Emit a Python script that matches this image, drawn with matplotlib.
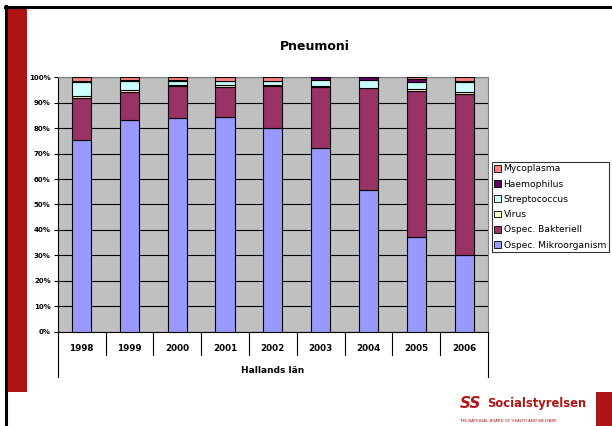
import matplotlib
matplotlib.use("Agg")
import matplotlib.pyplot as plt
from matplotlib.patches import Rectangle, Patch
from matplotlib.lines import Line2D
import numpy as np

years = ["1998", "1999", "2000", "2001", "2002", "2003", "2004", "2005", "2006"]
series_names = ["Ospec. Mikroorganism", "Ospec. Bakteriell", "Virus",
                "Streptococcus", "Haemophilus", "Mycoplasma"]
mikro = [75.5, 83.2, 83.9, 84.3, 80.0, 72.3, 55.7, 37.4, 30.0]
bakt = [16.5, 11.0, 12.8, 12.0, 16.7, 24.0, 40.0, 57.2, 63.3]
virus = [0.7, 1.0, 0.4, 0.5, 0.3, 0.4, 0.0, 0.7, 0.8]
strep = [5.3, 3.2, 1.5, 1.6, 1.4, 2.3, 3.3, 2.7, 3.9]
haem = [0.5, 0.5, 0.4, 0.2, 0.2, 1.0, 1.0, 1.2, 0.6]
myco = [1.5, 1.1, 1.0, 1.4, 1.4, 0.0, 0.0, 0.8, 1.4]
colors = ["#9999FF", "#993366", "#FFFFCC", "#CCFFFF", "#660066", "#FF8080"]
yticks = [0, 10, 20, 30, 40, 50, 60, 70, 80, 90, 100]
title = "Pneumoni"
xgroup = "Hallands län"

W, H = 612, 426
fig = plt.figure(figsize=(W / 100, H / 100), dpi=100)
fig.patch.set_facecolor("white")

def fx(x):
    return x / W

def fy(y):
    return 1 - y / H

# slide decorations
fig.add_artist(Rectangle((fx(7), fy(392)), fx(27) - fx(7), fy(8) - fy(392),
                         transform=fig.transFigure, color="#B01515", lw=0))
fig.add_artist(Rectangle((fx(596), fy(426)), fx(612) - fx(596), fy(392) - fy(426),
                         transform=fig.transFigure, color="#B01515", lw=0))
fig.add_artist(Line2D([fx(5), fx(612)], [fy(7), fy(7)], transform=fig.transFigure,
                      color="black", lw=2.2))
fig.add_artist(Line2D([fx(6), fx(6)], [fy(6), fy(426)], transform=fig.transFigure,
                      color="black", lw=2.2))

# chart axes
x0, x1, ytop, ybot = 57.7, 488.0, 77.3, 331.7
ax = fig.add_axes([fx(x0), fy(ybot), fx(x1) - fx(x0), fy(ytop) - fy(ybot)])
ax.set_facecolor("#C0C0C0")
n = len(years)
x = np.arange(n)
data = [mikro, bakt, virus, strep, haem, myco]
bottom = np.zeros(n)
for vals, c, name in zip(data, colors, series_names):
    vals = np.array(vals)
    ax.bar(x, vals, bottom=bottom, width=0.4, color=c, edgecolor="black",
           linewidth=0.8, label=name, zorder=3)
    bottom = bottom + vals
ax.set_xlim(-0.5, n - 0.5)
ax.set_ylim(0, 100)
ax.set_yticks(yticks)
ax.set_yticklabels([f"{v}%" for v in yticks], fontsize=5, fontweight="bold")
ax.yaxis.grid(True, color="black", lw=0.8, zorder=1)
ax.set_axisbelow(True)
ax.set_xticks([])
ax.tick_params(axis="y", length=3, width=0.8, pad=2)
for s in ["top", "right"]:
    ax.spines[s].set_color("#808080")
    ax.spines[s].set_linewidth(0.8)
ax.spines["left"].set_linewidth(0.8)
ax.spines["bottom"].set_linewidth(0.8)

# category axis below
catw = (x1 - x0) / n
for i in range(n + 1):
    xx = x0 + i * catw
    y2 = 377 if i in (0, n) else 354.5
    fig.add_artist(Line2D([fx(xx), fx(xx)], [fy(ybot), fy(y2)],
                          transform=fig.transFigure, color="black", lw=0.8))
for i, yr in enumerate(years):
    fig.text(fx(x0 + (i + 0.5) * catw), fy(348.5), yr, ha="center", va="center",
             fontsize=6.3, fontweight="bold")
fig.text(fx((x0 + x1) / 2), fy(370.5), xgroup, ha="center", va="center",
         fontsize=6.5, fontweight="bold")

fig.text(fx(315), fy(46), title, ha="center", va="center", fontsize=9,
         fontweight="bold")

# legend
handles = [Patch(facecolor=c, edgecolor="black", lw=0.6, label=nm)
           for c, nm in zip(colors, series_names)][::-1]
leg = fig.legend(handles=handles, loc="upper left",
                 bbox_to_anchor=(fx(491.7), fy(161.7)), fontsize=6.6,
                 frameon=True, fancybox=False, edgecolor="black",
                 handlelength=0.75, handleheight=0.75, handletextpad=0.25,
                 borderpad=0.3, labelspacing=0.68, borderaxespad=0)
leg.get_frame().set_linewidth(0.8)

# logo
fig.text(fx(487), fy(404), "Socialstyrelsen", ha="left", va="center",
         fontsize=8.3, fontweight="bold", color="#B01515")
fig.text(fx(459), fy(421), "THE NATIONAL BOARD OF HEALTH AND WELFARE",
         ha="left", va="center", fontsize=2.9, color="#B01515")
fig.text(fx(471), fy(403), "SS", ha="center", va="center", fontsize=11,
         fontweight="bold", color="#B01515", style="italic")

fig.savefig("out.png", dpi=100)
